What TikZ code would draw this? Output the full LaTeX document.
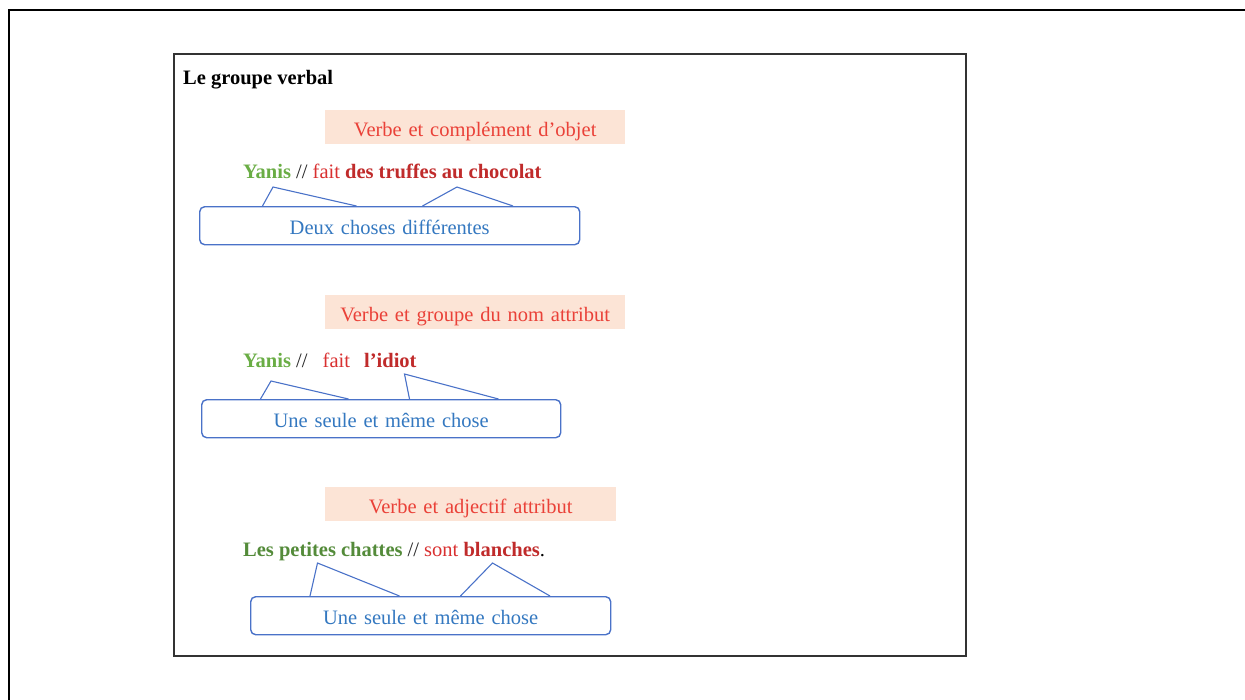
\documentclass[tikz,border=0pt]{standalone}
\usepackage{fontspec}
\setmainfont{Liberation Serif}
\usetikzlibrary{positioning}

\definecolor{subjgreen}{HTML}{6AAD45}
\definecolor{subjdark}{HTML}{548B3A}
\definecolor{verbred}{HTML}{D93030}
\definecolor{compred}{HTML}{C02B2B}
\definecolor{bannerred}{HTML}{EA4138}
\definecolor{bannerfill}{HTML}{FCE4D6}
\definecolor{boxblue}{HTML}{4A72C8}
\definecolor{boxtext}{HTML}{3478C0}

\begin{document}
\begin{tikzpicture}[x=1pt, y=-1pt]
    \tikzset{
        txt/.style={inner sep=0pt, font=\fontsize{20.5}{24}\selectfont},
        banner/.style={txt, fill=bannerfill, text=bannerred, anchor=north west,
            text width=#1, align=center, text height=26pt, text depth=8pt},
        meaning/.style={txt, draw=boxblue, line width=1.4pt, rounded corners=5pt,
            text=boxtext, anchor=north west, text width=#1, align=center,
            text height=28pt, text depth=10pt},
        wedge/.style={draw=boxblue, line width=1.1pt},
    }
    \useasboundingbox (0,0) rectangle (1245,699);

    % Frames
    \draw[line width=2.2pt] (9.3,720) -- (9.3,10) -- (1260,10);
    \draw[line width=1.3pt, black!80] (174,54) rectangle (966,656);

    % Title
    \node[txt, anchor=base west, font=\fontsize{20.5}{24}\selectfont\bfseries] (title) at (183,84) {Le groupe verbal};

    % First example
    \node[banner=300pt] (ban1) at (325,110) {Verbe et complément d’objet};
    \node[txt, anchor=base west] (ex1) at (243,178)
        {{\color{subjgreen}\bfseries Yanis} {\color{black!85}//} {\color{verbred}fait} {\color{compred}\bfseries des truffes au chocolat}};
    \node[meaning=380pt] (box1) at (199,206) {Deux choses différentes};
    \coordinate (t11) at (273,187);
    \coordinate (t12) at (457,187);
    \draw[wedge] (262.5,206) -- (t11) -- (356.5,206);
    \draw[wedge] (422.5,206) -- (t12) -- (513,206);

    % Second example
    \node[banner=300pt] (ban2) at (325,295) {Verbe et groupe du nom attribut};
    \node[txt, anchor=base west] (ex2) at (243,367)
        {{\color{subjgreen}\bfseries Yanis} {\color{black!85}//}\hspace{10pt} {\color{verbred}fait}\hspace{9pt} {\color{compred}\bfseries l’idiot}};
    \node[meaning=359pt] (box2) at (201,399) {Une seule et même chose};
    \coordinate (t21) at (271,381);
    \coordinate (t22) at (404.5,374);
    \draw[wedge] (260.5,399) -- (t21) -- (348.5,399);
    \draw[wedge] (409.5,399) -- (t22) -- (498.5,399);

    % Third example
    \node[banner=291pt] (ban3) at (325,487) {Verbe et adjectif attribut};
    \node[txt, anchor=base west] (ex3) at (243,556)
        {{\color{subjdark}\bfseries Les petites chattes} {\color{black!85}//} {\color{verbred}sont} {\color{compred}\bfseries blanches}.};
    \node[meaning=360pt] (box3) at (250,596) {Une seule et même chose};
    \coordinate (t31) at (317.5,563);
    \coordinate (t32) at (492.5,563);
    \draw[wedge] (310,596) -- (t31) -- (399.5,596);
    \draw[wedge] (460.5,596) -- (t32) -- (550,596);
\end{tikzpicture}
\end{document}
